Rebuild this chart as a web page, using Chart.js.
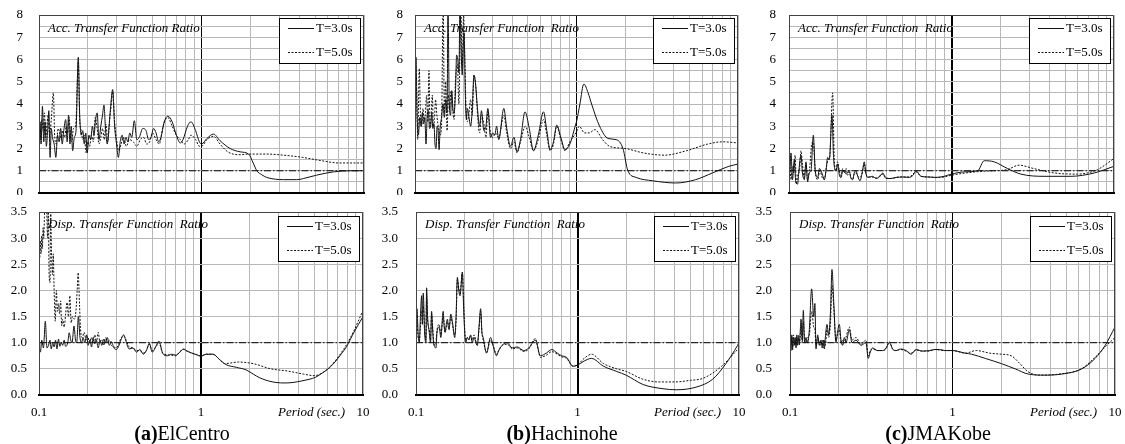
<!DOCTYPE html>
<html><head><meta charset="utf-8">
<script src="https://cdn.jsdelivr.net/npm/chart.js@4/dist/chart.umd.min.js"></script>
<style>
html,body{margin:0;padding:0;background:#fff;}
body{width:1125px;height:444px;position:relative;overflow:hidden;font-family:"Liberation Serif","Times New Roman",serif;color:#000;}
canvas{position:absolute;}
.ttl{position:absolute;font-style:italic;font-size:13px;line-height:13px;white-space:pre;}
.leg{position:absolute;border:1px solid #000;background:#fff;width:80px;height:44px;}
.leg .row{position:absolute;left:0;height:14px;width:80px;font-size:13px;line-height:14px;}
.leg svg{position:absolute;left:8px;top:6px;}
.leg span{position:absolute;left:36px;top:0;}
.xl{position:absolute;font-style:italic;font-size:13px;line-height:13px;white-space:pre;}
.cap{position:absolute;width:240px;text-align:center;font-size:20px;line-height:20px;white-space:pre;}
</style>
</head><body>
<script>
// ---------- DATA (period [s], ratio) ----------
const xTicks = [0.1,0.2,0.3,0.4,0.5,0.6,0.7,0.8,0.9,1,2,3,4,5,6,7,8,9,10];
const xTickLabels = ['0.1','','','','','','','','','1','','','','','','','','','10'];
const accYTicks = [0,0.5,1,1.5,2,2.5,3,3.5,4,4.5,5,5.5,6,6.5,7,7.5,8];
const accYLabels = ['0','','1','','2','','3','','4','','5','','6','','7','','8'];
const dispYTicks = [0,0.5,1,1.5,2,2.5,3,3.5];
const dispYLabels = ['0.0','0.5','1.0','1.5','2.0','2.5','3.0','3.5'];
const seriesNames = ['T=3.0s','T=5.0s'];
const referenceLevel = 1;
const panelTitles = ['Acc. Transfer Function Ratio','Acc. Transfer Function  Ratio','Acc. Transfer Function  Ratio',
  'Disp. Transfer Function  Ratio','Disp. Transfer Function  Ratio','Disp. Transfer Function  Ratio'];
const captionBold = ['(a)','(b)','(c)'];
const captionText = ['ElCentro','Hachinohe','JMAKobe'];
const xAxisTitle = 'Period (sec.)';

// ElCentro - acceleration
const elcAccT3 = [[0.1,2.4],[0.1015,3.2],[0.103,2.2],[0.105,3.9],[0.107,2.3],[0.109,3.2],[0.111,2.1],[0.113,2.8],[0.115,3.7],[0.117,1.6],[0.119,2.9],[0.121,2.5],[0.124,2.2],[0.127,1.6],[0.13,2.6],[0.133,2.3],[0.136,2.9],[0.139,2.2],[0.142,2.8],[0.146,3.3],[0.149,2.3],[0.152,3.5],[0.155,2.2],[0.158,3.0],[0.161,1.9],[0.165,2.5],[0.169,2.8],[0.1745,6.1],[0.178,3.5],[0.182,2.6],[0.186,2.8],[0.19,2.2],[0.194,2.7],[0.198,1.8],[0.203,2.6],[0.208,2.4],[0.213,3.0],[0.218,2.6],[0.223,3.3],[0.228,3.6],[0.234,2.4],[0.24,3.0],[0.246,3.5],[0.251,3.95],[0.257,2.8],[0.263,2.2],[0.27,3.0],[0.276,3.9],[0.284,4.65],[0.292,3.0],[0.3,2.2],[0.308,1.6],[0.316,2.3],[0.325,2.6],[0.334,2.2],[0.343,2.5],[0.352,2.3],[0.362,2.7],[0.372,2.5],[0.386,3.25],[0.4,2.4],[0.414,2.5],[0.435,2.9],[0.456,2.8],[0.472,2.4],[0.489,2.5],[0.507,2.9],[0.525,2.7],[0.545,2.3],[0.563,2.5],[0.59,3.2],[0.62,3.45],[0.66,3.2],[0.7,2.6],[0.74,2.25],[0.77,2.4],[0.82,3.0],[0.862,3.2],[0.92,2.8],[0.97,2.3],[1.0,2.2],[1.08,2.45],[1.185,2.65],[1.3,2.35],[1.5,2.0],[1.73,1.85],[1.95,1.75],[2.08,1.35],[2.19,1.0],[2.35,0.82],[2.52,0.7],[2.85,0.62],[3.2,0.6],[3.85,0.6],[4.4,0.68],[5.1,0.8],[6.5,0.95],[8.3,1.0],[10,1.0]];
const elcAccT5 = [[0.1,2.9],[0.102,2.4],[0.104,3.3],[0.106,2.8],[0.108,3.6],[0.11,2.5],[0.112,3.1],[0.114,3.5],[0.116,2.6],[0.119,3.3],[0.1225,4.5],[0.125,2.5],[0.128,2.2],[0.131,2.9],[0.134,2.7],[0.137,2.4],[0.14,2.8],[0.144,2.5],[0.147,3.0],[0.15,2.7],[0.153,3.4],[0.156,2.6],[0.159,2.3],[0.163,2.9],[0.168,3.0],[0.1745,5.9],[0.178,3.3],[0.182,2.8],[0.186,2.4],[0.19,2.6],[0.195,1.8],[0.2,2.3],[0.205,2.1],[0.21,2.6],[0.216,2.3],[0.222,3.4],[0.228,2.9],[0.234,2.2],[0.24,2.5],[0.246,2.9],[0.252,2.4],[0.258,3.1],[0.265,2.3],[0.272,3.3],[0.279,4.0],[0.284,4.55],[0.292,3.2],[0.3,2.4],[0.31,1.9],[0.32,2.2],[0.33,2.5],[0.345,2.1],[0.36,2.4],[0.38,2.3],[0.4,2.1],[0.42,2.4],[0.44,2.5],[0.46,2.2],[0.48,2.3],[0.5,2.7],[0.525,2.4],[0.55,2.2],[0.58,3.0],[0.62,3.4],[0.66,3.0],[0.7,2.6],[0.74,2.4],[0.78,2.2],[0.83,2.4],[0.862,2.6],[0.92,2.4],[0.97,2.1],[1.0,2.1],[1.08,2.4],[1.185,2.55],[1.3,2.2],[1.45,1.85],[1.7,1.72],[1.95,1.75],[2.5,1.75],[3.2,1.7],[4.2,1.6],[5.5,1.45],[7.0,1.35],[10,1.35]];

// Hachinohe - acceleration
const hacAccT3 = [[0.1,2.8],[0.1014,6.1],[0.103,3.5],[0.105,2.6],[0.107,3.4],[0.109,3.0],[0.111,3.6],[0.113,3.1],[0.115,3.4],[0.117,2.2],[0.119,3.5],[0.121,3.7],[0.123,2.9],[0.125,3.0],[0.127,3.6],[0.129,2.9],[0.131,3.1],[0.133,2.2],[0.135,2.0],[0.137,3.0],[0.139,2.8],[0.141,1.95],[0.143,2.9],[0.146,3.4],[0.149,4.0],[0.152,3.4],[0.155,4.2],[0.158,3.6],[0.16,8.5],[0.163,4.0],[0.166,3.5],[0.169,4.6],[0.172,3.7],[0.1745,3.6],[0.178,4.5],[0.181,6.2],[0.184,6.0],[0.187,5.4],[0.19,8.5],[0.193,6.5],[0.196,5.3],[0.199,6.6],[0.2012,7.2],[0.205,4.4],[0.208,3.3],[0.211,3.8],[0.216,3.4],[0.2211,3.0],[0.226,3.7],[0.2318,5.3],[0.237,4.9],[0.243,3.9],[0.2511,3.0],[0.258,3.7],[0.267,2.8],[0.275,3.0],[0.2826,3.8],[0.2934,2.5],[0.303,2.7],[0.312,2.6],[0.32,3.0],[0.33,2.4],[0.3548,3.8],[0.37,2.9],[0.39,2.1],[0.41,2.5],[0.4283,1.85],[0.45,2.4],[0.48,3.65],[0.51,2.9],[0.5414,1.9],[0.58,2.6],[0.6245,3.65],[0.655,2.8],[0.6865,1.95],[0.72,2.3],[0.7546,3.05],[0.8,2.5],[0.8485,1.95],[0.91,2.2],[0.99,3.1],[1.0,3.2],[1.05,4.0],[1.11,4.9],[1.18,4.5],[1.24,4.0],[1.39,3.0],[1.57,2.45],[1.76,2.4],[1.94,2.0],[2.08,1.0],[2.34,0.7],[2.96,0.55],[4.12,0.45],[5.47,0.6],[6.94,0.9],[8.78,1.2],[10,1.3]];
const hacAccT5 = [[0.1,3.3],[0.102,4.7],[0.104,2.4],[0.1063,5.6],[0.108,3.6],[0.11,3.0],[0.112,3.8],[0.114,3.2],[0.116,3.6],[0.118,4.4],[0.12,3.2],[0.122,5.5],[0.124,3.0],[0.126,3.5],[0.128,4.4],[0.13,3.0],[0.132,3.3],[0.134,4.2],[0.137,3.4],[0.14,2.9],[0.143,2.6],[0.146,3.1],[0.1494,8.5],[0.152,3.6],[0.155,5.0],[0.158,2.8],[0.161,4.4],[0.164,3.8],[0.167,4.6],[0.171,3.8],[0.1745,3.3],[0.178,5.0],[0.183,5.8],[0.187,4.0],[0.192,8.5],[0.196,5.7],[0.2,8.0],[0.203,6.4],[0.207,3.8],[0.211,3.2],[0.216,3.6],[0.221,4.2],[0.226,3.5],[0.232,5.3],[0.238,4.8],[0.245,3.3],[0.2511,2.7],[0.258,3.5],[0.267,3.1],[0.275,2.5],[0.2826,3.7],[0.2934,2.7],[0.303,2.5],[0.315,2.7],[0.33,2.5],[0.3548,3.5],[0.37,2.7],[0.39,2.0],[0.41,2.3],[0.4283,1.8],[0.45,2.3],[0.4815,3.0],[0.51,2.5],[0.5414,1.9],[0.58,2.4],[0.6245,3.3],[0.655,2.6],[0.6865,1.9],[0.72,2.2],[0.7546,3.0],[0.8,2.4],[0.8485,1.9],[0.91,2.3],[1.0,2.75],[1.04,3.0],[1.12,2.7],[1.2,2.7],[1.3,2.85],[1.45,2.4],[1.6,2.1],[2.0,2.0],[2.6,1.8],[3.5,1.7],[4.8,1.9],[6.5,2.2],[8.0,2.3],[10,2.25]];

// JMAKobe - acceleration
const kobAccT3 = [[0.1,2.5],[0.101,1.0],[0.1029,1.8],[0.105,0.6],[0.1078,1.5],[0.11,0.5],[0.113,0.4],[0.115,1.0],[0.1185,1.7],[0.121,0.9],[0.1243,0.6],[0.1272,1.4],[0.1303,0.5],[0.133,0.9],[0.1366,1.0],[0.1412,2.6],[0.145,1.0],[0.1501,0.7],[0.154,1.1],[0.1574,1.0],[0.161,0.8],[0.165,0.6],[0.169,1.0],[0.1729,1.6],[0.1771,1.5],[0.1839,3.5],[0.188,1.6],[0.1946,1.0],[0.1991,1.3],[0.204,0.8],[0.2089,0.7],[0.214,1.0],[0.219,1.0],[0.224,0.85],[0.2296,0.9],[0.2351,1.0],[0.24,0.7],[0.2465,0.6],[0.252,0.9],[0.2584,1.0],[0.265,0.75],[0.2734,0.55],[0.282,0.9],[0.2906,1.4],[0.297,0.9],[0.3049,0.7],[0.315,0.72],[0.3274,0.75],[0.3431,0.65],[0.36,0.72],[0.3776,0.9],[0.3955,0.65],[0.42,0.65],[0.4557,0.7],[0.5,0.72],[0.5503,0.7],[0.58,0.8],[0.6049,1.0],[0.6486,0.75],[0.72,0.72],[0.8018,0.7],[0.9,0.75],[1.0,0.85],[1.2,0.95],[1.45,1.0],[1.59,1.45],[1.83,1.4],[2.21,1.1],[2.67,0.85],[3.71,0.75],[5.42,0.75],[7.55,0.9],[10,1.2]];
const kobAccT5 = [[0.1,1.8],[0.101,1.4],[0.103,0.6],[0.105,1.2],[0.107,0.9],[0.109,1.7],[0.111,0.4],[0.113,0.8],[0.116,1.0],[0.1185,1.9],[0.121,1.3],[0.124,0.7],[0.127,1.3],[0.13,0.6],[0.134,1.1],[0.138,2.2],[0.1412,2.3],[0.145,1.0],[0.15,0.6],[0.155,1.0],[0.16,0.7],[0.165,0.6],[0.17,1.2],[0.1745,1.5],[0.178,1.6],[0.1856,4.5],[0.19,1.5],[0.1946,1.0],[0.199,1.4],[0.204,1.0],[0.209,0.7],[0.214,1.1],[0.219,0.9],[0.225,1.1],[0.2296,0.8],[0.235,0.95],[0.24,0.7],[0.246,0.6],[0.252,0.85],[0.2584,0.9],[0.265,0.75],[0.273,0.7],[0.282,0.9],[0.2906,1.3],[0.297,0.9],[0.3049,0.72],[0.32,0.72],[0.345,0.68],[0.3776,0.85],[0.3955,0.68],[0.43,0.65],[0.4557,0.7],[0.5,0.72],[0.55,0.72],[0.6049,0.95],[0.65,0.75],[0.72,0.72],[0.8,0.7],[0.9,0.72],[1.0,0.8],[1.4,0.95],[1.8,1.0],[2.2,1.05],[2.6,1.25],[3.2,1.1],[4.3,0.9],[5.96,0.85],[7.9,1.05],[10,1.55]];

// ElCentro - displacement
const elcDispT3 = [[0.1,0.95],[0.102,0.82],[0.104,1.05],[0.1065,0.9],[0.1094,1.41],[0.112,0.9],[0.1145,0.95],[0.117,1.05],[0.119,0.88],[0.1215,1.0],[0.124,0.92],[0.1265,1.05],[0.129,0.88],[0.132,1.07],[0.1345,0.93],[0.137,1.0],[0.14,0.95],[0.143,1.05],[0.146,0.93],[0.1505,1.0],[0.1537,1.19],[0.157,1.05],[0.16,1.0],[0.1645,1.32],[0.168,1.05],[0.171,1.0],[0.175,1.5],[0.179,1.1],[0.183,1.0],[0.187,1.1],[0.192,1.0],[0.197,1.15],[0.201,0.95],[0.206,1.05],[0.211,0.92],[0.216,1.1],[0.221,0.98],[0.226,1.05],[0.232,0.9],[0.238,1.05],[0.244,0.95],[0.251,1.07],[0.257,1.0],[0.264,1.1],[0.272,0.95],[0.28,1.02],[0.29,0.9],[0.3,0.87],[0.31,0.93],[0.32,1.05],[0.333,1.15],[0.345,1.02],[0.36,0.88],[0.38,0.9],[0.4,0.82],[0.42,0.87],[0.44,0.78],[0.46,0.85],[0.48,0.99],[0.5,0.82],[0.53,0.95],[0.55,1.03],[0.58,0.8],[0.62,0.75],[0.66,0.78],[0.7,0.76],[0.74,0.82],[0.78,0.88],[0.82,0.84],[0.88,0.8],[0.94,0.77],[1.0,0.74],[1.08,0.78],[1.185,0.78],[1.3,0.68],[1.43,0.58],[1.65,0.53],[1.9,0.48],[2.1,0.4],[2.3,0.33],[2.6,0.27],[2.9,0.24],[3.3,0.23],[3.7,0.24],[4.2,0.27],[4.65,0.3],[5.1,0.34],[5.6,0.42],[6.2,0.52],[6.8,0.65],[7.4,0.8],[7.9,0.92],[8.8,1.2],[10,1.5]];
const elcDispT5 = [[0.1,2.7],[0.101,2.6],[0.102,2.95],[0.103,2.7],[0.104,3.05],[0.105,2.8],[0.106,3.2],[0.107,3.0],[0.108,3.4],[0.109,3.6],[0.111,3.7],[0.113,3.0],[0.114,3.6],[0.1155,2.3],[0.117,2.15],[0.118,3.8],[0.119,3.0],[0.121,2.3],[0.1225,2.7],[0.124,2.0],[0.126,1.41],[0.128,2.0],[0.13,1.6],[0.132,1.75],[0.134,1.55],[0.136,1.8],[0.138,1.32],[0.14,1.45],[0.143,1.3],[0.146,1.55],[0.149,1.77],[0.152,1.5],[0.155,1.9],[0.158,1.38],[0.161,1.5],[0.165,1.45],[0.169,1.6],[0.172,2.0],[0.1745,2.34],[0.178,1.7],[0.181,1.2],[0.185,1.1],[0.19,1.2],[0.195,1.05],[0.2,1.12],[0.205,1.0],[0.21,1.1],[0.215,1.0],[0.221,1.15],[0.226,1.0],[0.232,1.2],[0.238,1.0],[0.244,1.05],[0.251,0.95],[0.258,1.1],[0.265,1.0],[0.272,1.05],[0.28,0.95],[0.29,0.92],[0.3,0.9],[0.31,0.97],[0.32,1.08],[0.333,1.13],[0.345,1.05],[0.36,0.92],[0.38,0.9],[0.4,0.85],[0.42,0.85],[0.44,0.8],[0.46,0.85],[0.48,0.97],[0.5,0.85],[0.53,0.93],[0.55,1.0],[0.58,0.8],[0.62,0.77],[0.66,0.76],[0.7,0.75],[0.74,0.83],[0.78,0.87],[0.82,0.84],[0.88,0.8],[0.94,0.77],[1.0,0.75],[1.08,0.78],[1.185,0.78],[1.3,0.68],[1.4,0.6],[1.7,0.63],[2.1,0.6],[2.7,0.5],[3.4,0.46],[4.3,0.4],[5.0,0.37],[5.6,0.42],[6.3,0.55],[7.5,0.85],[8.7,1.2],[10,1.62]];

// Hachinohe - displacement
const hacDispT3 = [[0.1,1.2],[0.1014,1.65],[0.103,1.2],[0.1048,1.0],[0.1065,1.5],[0.1084,1.9],[0.1095,1.35],[0.1109,1.95],[0.113,1.2],[0.1152,1.0],[0.1163,2.05],[0.118,1.5],[0.1208,1.2],[0.123,1.0],[0.1249,1.6],[0.1265,1.3],[0.1284,1.0],[0.1305,0.92],[0.1328,0.9],[0.135,1.2],[0.1392,1.3],[0.1425,1.1],[0.1473,1.6],[0.1495,1.3],[0.1515,1.2],[0.154,1.35],[0.1566,1.45],[0.1585,1.3],[0.1603,1.25],[0.1642,1.55],[0.168,1.4],[0.1737,1.1],[0.177,1.5],[0.1804,2.25],[0.184,2.0],[0.1874,1.9],[0.1937,2.35],[0.1975,1.6],[0.203,1.0],[0.208,1.1],[0.2129,1.05],[0.218,1.15],[0.2229,1.0],[0.2285,1.1],[0.2397,0.95],[0.2455,1.3],[0.2513,1.65],[0.256,1.2],[0.2607,1.1],[0.2733,0.8],[0.2895,1.1],[0.3,0.95],[0.315,0.75],[0.325,0.85],[0.3415,0.95],[0.3665,1.0],[0.3938,0.9],[0.4231,0.92],[0.4648,0.85],[0.4993,0.9],[0.5485,1.05],[0.5893,0.75],[0.64,0.8],[0.6937,0.87],[0.75,0.8],[0.7983,0.75],[0.8563,0.72],[0.9376,0.55],[1.0,0.57],[1.1,0.65],[1.22,0.7],[1.45,0.55],[1.75,0.45],[2.0,0.38],[2.55,0.2],[3.38,0.12],[4.08,0.1],[5.42,0.15],[6.86,0.3],[8.3,0.6],[9.8,0.95],[10,1.0]];
const hacDispT5 = [[0.1,1.0],[0.1014,1.4],[0.103,1.1],[0.1048,1.05],[0.1065,1.3],[0.1084,1.6],[0.1095,1.55],[0.1109,1.7],[0.113,1.3],[0.1152,1.05],[0.1163,1.9],[0.118,1.4],[0.1208,1.25],[0.123,1.05],[0.1249,1.55],[0.1265,1.35],[0.1284,1.05],[0.1305,0.95],[0.1328,1.0],[0.135,1.25],[0.1392,1.35],[0.1425,1.15],[0.1473,1.5],[0.1495,1.35],[0.1515,1.2],[0.154,1.3],[0.1566,1.4],[0.1585,1.35],[0.1603,1.3],[0.1642,1.5],[0.168,1.35],[0.1737,1.15],[0.177,1.4],[0.1804,2.2],[0.184,2.05],[0.1874,1.95],[0.1937,2.35],[0.1975,1.7],[0.203,1.05],[0.208,1.1],[0.2129,1.1],[0.218,1.12],[0.2229,1.05],[0.2285,1.15],[0.2397,0.95],[0.2455,1.25],[0.2513,1.6],[0.256,1.2],[0.2607,1.05],[0.2733,0.82],[0.2895,1.05],[0.3,0.95],[0.315,0.78],[0.325,0.85],[0.3415,0.95],[0.3665,0.97],[0.3938,0.88],[0.4231,0.9],[0.4648,0.83],[0.4993,0.88],[0.5485,1.08],[0.5893,0.72],[0.64,0.76],[0.6937,0.83],[0.75,0.78],[0.7983,0.73],[0.8563,0.7],[0.9376,0.55],[1.0,0.58],[1.1,0.7],[1.22,0.78],[1.45,0.6],[1.75,0.5],[2.0,0.45],[2.55,0.3],[3.2,0.25],[4.0,0.25],[5.0,0.28],[6.0,0.32],[7.8,0.55],[10,0.9]];

// JMAKobe - displacement
const kobDispT3 = [[0.1,1.35],[0.1014,0.85],[0.1026,1.15],[0.1038,0.9],[0.105,1.1],[0.1063,0.95],[0.1076,1.1],[0.1089,0.9],[0.1102,1.15],[0.1115,0.95],[0.1128,1.1],[0.1141,1.0],[0.1155,1.2],[0.1169,1.45],[0.119,1.05],[0.1208,1.62],[0.123,1.0],[0.1254,1.1],[0.1285,1.0],[0.1315,1.25],[0.1359,2.03],[0.1399,1.5],[0.1423,1.75],[0.1445,0.88],[0.148,1.15],[0.1515,0.95],[0.1551,1.05],[0.1578,0.9],[0.1603,1.05],[0.1628,0.88],[0.165,1.1],[0.1689,1.35],[0.1729,1.15],[0.1775,1.6],[0.1813,2.4],[0.1857,1.8],[0.1919,1.0],[0.196,1.2],[0.2012,1.35],[0.206,1.05],[0.211,0.95],[0.216,1.1],[0.2211,1.0],[0.2318,1.25],[0.2407,1.0],[0.2549,1.05],[0.2733,0.95],[0.2934,1.0],[0.303,0.7],[0.312,0.82],[0.3223,0.9],[0.345,0.85],[0.3716,0.85],[0.39,0.9],[0.4084,1.0],[0.43,0.87],[0.4489,0.85],[0.48,0.88],[0.5178,0.85],[0.5562,0.78],[0.5977,0.87],[0.65,0.84],[0.7205,0.85],[0.78,0.87],[0.8299,0.87],[0.9,0.85],[1.0,0.85],[1.2,0.8],[1.31,0.78],[1.59,0.7],[2.0,0.6],[2.43,0.5],[2.93,0.4],[3.71,0.38],[4.7,0.4],[6.25,0.5],[7.55,0.7],[8.7,0.95],[10,1.3]];
const kobDispT5 = [[0.1,1.2],[0.1014,0.95],[0.1026,1.1],[0.1038,0.85],[0.105,1.15],[0.1063,1.0],[0.1076,1.05],[0.1089,0.95],[0.1102,1.1],[0.1115,1.0],[0.1128,1.15],[0.1141,0.95],[0.1155,1.1],[0.1169,1.3],[0.119,1.0],[0.1208,1.4],[0.123,1.05],[0.1254,1.0],[0.1285,1.1],[0.1315,1.15],[0.1359,1.6],[0.1399,1.3],[0.1423,1.25],[0.1445,0.95],[0.148,1.1],[0.1515,1.0],[0.1551,0.95],[0.1578,1.05],[0.1603,0.9],[0.1628,1.05],[0.165,0.95],[0.1689,1.25],[0.1729,1.1],[0.1775,1.4],[0.1813,2.1],[0.1857,1.7],[0.1919,1.05],[0.196,1.15],[0.2012,1.25],[0.206,1.0],[0.211,1.05],[0.216,1.0],[0.2211,1.1],[0.2318,1.3],[0.2407,1.05],[0.2549,1.1],[0.2733,0.97],[0.2934,1.05],[0.303,0.75],[0.312,0.85],[0.3223,0.88],[0.345,0.85],[0.3716,0.85],[0.39,0.88],[0.4084,1.02],[0.43,0.87],[0.4489,0.85],[0.48,0.87],[0.5178,0.84],[0.5562,0.8],[0.5977,0.86],[0.65,0.84],[0.7205,0.84],[0.78,0.87],[0.8299,0.86],[0.9,0.85],[1.0,0.85],[1.2,0.8],[1.4,0.85],[1.7,0.8],[2.0,0.78],[2.3,0.75],[2.6,0.6],[2.9,0.45],[3.4,0.38],[4.5,0.4],[6.2,0.5],[7.7,0.75],[8.9,0.95],[10,1.1]];

// ---------- LAYOUT ----------
const AXIS_W = 40, PAD_T = 8, PAD_R = 10;
const panels = [
  {x:39, y:15, w:325, h:178, bottom:false, s3:elcAccT3, s5:elcAccT5, yt:accYTicks, yl:accYLabels, max:8, midW:1, ypad:16},
  {x:415,y:15, w:323, h:178, bottom:false, s3:hacAccT3, s5:hacAccT5, yt:accYTicks, yl:accYLabels, max:8, midW:1, ypad:12},
  {x:789,y:15, w:325, h:178, bottom:false, s3:kobAccT3, s5:kobAccT5, yt:accYTicks, yl:accYLabels, max:8, midW:2, ypad:13},
  {x:39, y:212,w:324, h:183, bottom:true, s3:elcDispT3, s5:elcDispT5, yt:dispYTicks, yl:dispYLabels, max:3.5, midW:2, ypad:12},
  {x:416,y:212,w:323, h:183, bottom:true, s3:hacDispT3, s5:hacDispT5, yt:dispYTicks, yl:dispYLabels, max:3.5, midW:2, ypad:18},
  {x:790,y:212,w:325, h:183, bottom:true, s3:kobDispT3, s5:kobDispT5, yt:dispYTicks, yl:dispYLabels, max:3.5, midW:1, ypad:18}
];

Chart.defaults.font.family = '"Liberation Serif","Times New Roman",serif';
Chart.defaults.font.size = 13;
Chart.defaults.color = '#000';

const frame = {
  id:'frame',
  afterDatasetsDraw(chart){
    const a = chart.chartArea, c = chart.ctx;
    c.save(); c.strokeStyle = '#444'; c.lineWidth = 1;
    c.beginPath();
    c.moveTo(a.left+0.5, a.bottom); c.lineTo(a.left+0.5, a.top+0.5);
    c.lineTo(a.right-0.5, a.top+0.5); c.lineTo(a.right-0.5, a.bottom);
    c.stroke();
    c.strokeStyle = '#000'; c.lineWidth = 2;
    c.beginPath(); c.moveTo(a.left, a.bottom); c.lineTo(a.right, a.bottom); c.stroke();
    c.restore();
  }
};

function toPts(arr){ return arr.map(d => ({x:d[0], y:d[1]})); }

function el(tag, cls, style, html){
  const e = document.createElement(tag);
  if (cls) e.className = cls;
  Object.assign(e.style, style);
  if (html !== undefined) e.innerHTML = html;
  document.body.appendChild(e);
  return e;
}

panels.forEach((p, idx) => {
  const xH = p.bottom ? 30 : 2;
  const cw = AXIS_W + p.w + PAD_R, ch = PAD_T + p.h + xH;
  const cv = document.createElement('canvas');
  cv.width = cw; cv.height = ch;
  cv.style.width = cw + 'px'; cv.style.height = ch + 'px';
  cv.style.left = (p.x - AXIS_W) + 'px'; cv.style.top = (p.y - PAD_T) + 'px';
  document.body.appendChild(cv);

  new Chart(cv.getContext('2d'), {
    type:'line',
    data:{ datasets:[
      {label:seriesNames[0], data:toPts(p.s3), borderColor:'#111', borderWidth:1, pointRadius:0, cubicInterpolationMode:'monotone', fill:false},
      {label:seriesNames[1], data:toPts(p.s5), borderColor:'#111', borderWidth:1, borderDash:[2,1.5], pointRadius:0, cubicInterpolationMode:'monotone', fill:false},
      {label:'ref', data:[{x:xTicks[0], y:referenceLevel},{x:xTicks[xTicks.length-1], y:referenceLevel}], borderColor:'#000', borderWidth:1, borderDash:[7,2,1.5,2], pointRadius:0, fill:false}
    ]},
    options:{
      responsive:false, animation:false, devicePixelRatio:1,
      layout:{padding:{top:PAD_T, right:PAD_R, left:0, bottom:0}},
      plugins:{legend:{display:false}, tooltip:{enabled:false}},
      scales:{
        x:{ type:'logarithmic', min:0.1, max:10,
          afterBuildTicks(s){ s.ticks = xTicks.map(v => ({value:v})); },
          afterFit(s){ s.height = xH; s.paddingLeft = 0; s.paddingRight = 0; },
          ticks:{ display:p.bottom, autoSkip:false, maxRotation:0, padding:10,
            callback:(v,i) => xTickLabels[i] },
          grid:{ drawTicks:false,
            color:c => (c.tick && Math.abs(c.tick.value-1) < 1e-9) ? '#000' : '#b8b8b8',
            lineWidth:c => (c.tick && Math.abs(c.tick.value-1) < 1e-9) ? p.midW : 1 },
          border:{ display:true, color:'#000', width:2 }
        },
        y:{ min:0, max:p.max,
          afterBuildTicks(s){ s.ticks = p.yt.map(v => ({value:v})); },
          afterFit(s){ s.width = AXIS_W; s.paddingTop = 0; s.paddingBottom = 0; },
          ticks:{ autoSkip:false, padding:p.ypad, callback:(v,i) => p.yl[i] },
          grid:{ drawTicks:false, color:'#b8b8b8', lineWidth:1 },
          border:{ display:true, color:'#444', width:1 }
        }
      }
    },
    plugins:[frame]
  });

  // in-plot title
  el('div','ttl',{left:(p.x+9)+'px', top:(p.y + (p.bottom?5:6))+'px'}).textContent = panelTitles[idx];

  // legend box
  const lg = el('div','leg',{left:(p.x+p.w-3-82)+'px', top:(p.y+(p.bottom?4:3))+'px'});
  [0,1].forEach(k => {
    const row = document.createElement('div');
    row.className = 'row';
    row.style.top = (k===0 ? 2 : 26) + 'px';
    row.innerHTML = '<svg width="26" height="3"><line x1="0" y1="1.5" x2="26" y2="1.5" stroke="#111" stroke-width="1"' +
      (k===1 ? ' stroke-dasharray="2,1.5"' : '') + '/></svg><span></span>';
    row.querySelector('span').textContent = seriesNames[k];
    lg.appendChild(row);
  });

  if (p.bottom) {
    el('div','xl',{left:(p.x+p.w-85)+'px', top:(p.y+p.h+10)+'px'}).textContent = xAxisTitle;
  }
});

// captions
const capCenters = [182, 562, 938];
capCenters.forEach((cx, i) => {
  const d = el('div','cap',{left:(cx-120)+'px', top:'423px'});
  const b = document.createElement('b'); b.textContent = captionBold[i];
  d.appendChild(b); d.appendChild(document.createTextNode(captionText[i]));
});
</script>
</body></html>
